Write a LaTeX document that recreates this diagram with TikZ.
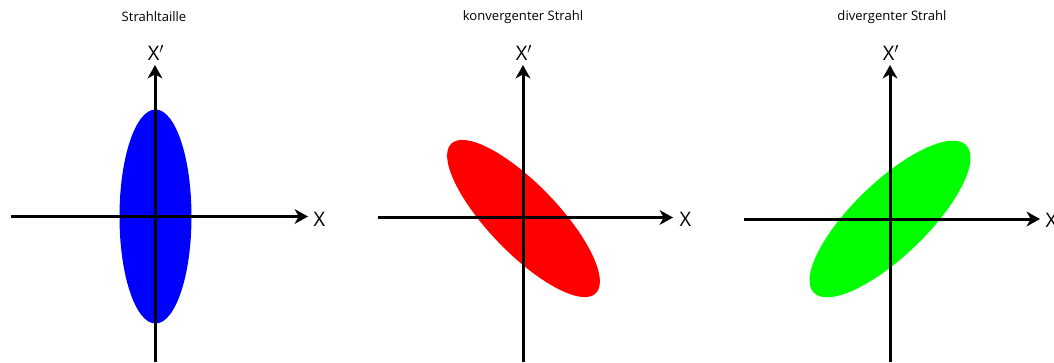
\documentclass[tikz,border=0pt]{standalone}
\usepackage{fontspec}
\setmainfont{Open Sans}
\usetikzlibrary{arrows.meta}

\definecolor{beamblue}{RGB}{0,0,255}
\definecolor{beamred}{RGB}{255,0,0}
\definecolor{beamgreen}{RGB}{0,255,0}

\tikzset{
  axis/.style={line width=2.25pt,-{Stealth[length=10pt,width=11pt,inset=3pt]}},
  axislabel/.style={inner sep=0pt,font=\fontsize{15}{17}\selectfont},
  paneltitle/.style={inner sep=0pt,font=\fontsize{9.8}{11}\selectfont}
}

\begin{document}
\begin{tikzpicture}[x=0.75pt,y=0.75pt]
\useasboundingbox (0,0) rectangle (1054,-362);

% Strahltaille
\node[paneltitle] (titleA) at (154,-17) {Strahltaille};
\fill[beamblue] (155.5,-216.5) ellipse [x radius=36, y radius=107];
\coordinate (xA0) at (11,-216.5);
\coordinate (xA1) at (308,-216.5);
\coordinate (yA0) at (155,-362);
\coordinate (yA1) at (155,-65);
\draw[axis] (xA0) -- (xA1);
\draw[axis] (yA0) -- (yA1);
\node[axislabel] (xA) at (319.5,-219) {X};
\node[axislabel] (xpA) at (156,-53) {X$'$};

% konvergenter Strahl
\node[paneltitle] (titleB) at (523,-17) {konvergenter Strahl};
\fill[beamred,rotate around={-46:(523.5,-218.5)}] (523.5,-218.5) ellipse [x radius=104, y radius=34.5];
\coordinate (xB0) at (378,-217.5);
\coordinate (xB1) at (673,-217.5);
\coordinate (yB0) at (523,-362);
\coordinate (yB1) at (523,-65);
\draw[axis] (xB0) -- (xB1);
\draw[axis] (yB0) -- (yB1);
\node[axislabel] (xB) at (685.5,-219) {X};
\node[axislabel] (xpB) at (524,-53) {X$'$};

% divergenter Strahl
\node[paneltitle] (titleC) at (892,-17) {divergenter Strahl};
\fill[beamgreen,rotate around={44:(890,-219)}] (890,-219) ellipse [x radius=106, y radius=37];
\coordinate (xC0) at (744,-219);
\coordinate (xC1) at (1040,-219);
\coordinate (yC0) at (890,-362);
\coordinate (yC1) at (890,-65);
\draw[axis] (xC0) -- (xC1);
\draw[axis] (yC0) -- (yC1);
\node[axislabel] (xC) at (1051.5,-220) {X};
\node[axislabel] (xpC) at (891,-53) {X$'$};

\end{tikzpicture}
\end{document}
